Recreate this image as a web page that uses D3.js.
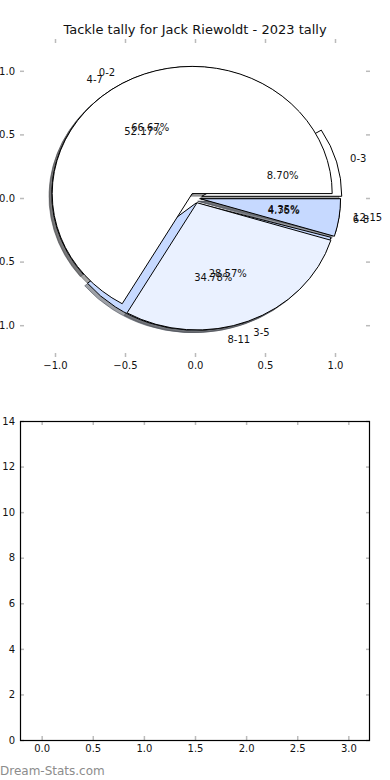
<!DOCTYPE html>
<html><head><meta charset="utf-8">
<script src="https://cdn.jsdelivr.net/npm/d3@7"></script>
<style>body{margin:0;background:#fff}svg{display:block;font-family:"DejaVu Sans",sans-serif}</style>
</head><body><svg id="c" width="390" height="780"></svg>
<script>
const title = "Tackle tally for Jack Riewoldt - 2023 tally";
const pieALabels = ["0-3", "4-7", "8-11", "12-15"];
const pieAValues = [2, 12, 8, 1];
const pieBLabels = ["0-2", "3-5", "6-8"];
const pieBValues = [14, 6, 1];
const pieTicks = [-1.0, -0.5, 0.0, 0.5, 1.0];
const barXTicks = [0, 0.5, 1, 1.5, 2, 2.5, 3];
const barYTicks = [0, 2, 4, 6, 8, 10, 12, 14];
const watermark = "Dream-Stats.com";

const wedgeColors = ["#ffffff", "#eaf1ff", "#c6d9ff"];
const pieAExplode = [0.05, 0.04, 0.04, 0.04];
const pieBExplode = [0.04, 0.04, 0.04];

const svg = d3.select("#c");
const L = 20, R = 370;
const TICK = "#bbbbbb";

// ---------- top axes (pie) ----------
const pT = 39, pB = 357;
const px = d3.scaleLinear().domain([-1.25, 1.25]).range([L, R]);
const py = d3.scaleLinear().domain([-1.25, 1.25]).range([pB, pT]);
const kx = px(1) - px(0), ky = py(0) - py(1);

svg.append("text").attr("x", (L + R) / 2).attr("y", 34).attr("text-anchor", "middle")
  .attr("font-size", 13).attr("fill", "#111").text(title);

function styleAxis(g) {
  g.select(".domain").remove();
  g.selectAll(".tick line").attr("stroke", TICK).attr("stroke-width", 1.5);
  g.selectAll(".tick text").attr("font-size", 10).attr("fill", "#111").attr("font-family", "DejaVu Sans");
}
const f1 = d3.format(".1f");
svg.append("g").attr("transform", `translate(${L},0)`).call(d3.axisLeft(py).tickValues(pieTicks).tickSize(-4).tickPadding(5).tickFormat(f1)).call(styleAxis);
svg.append("g").attr("transform", `translate(${R},0)`).call(d3.axisRight(py).tickValues(pieTicks).tickSize(-4).tickFormat("")).call(styleAxis);
svg.append("g").attr("transform", `translate(0,${pB})`).call(d3.axisBottom(px).tickValues(pieTicks).tickSize(-4).tickPadding(5).tickFormat(f1)).call(styleAxis);
svg.append("g").attr("transform", `translate(0,${pT})`).call(d3.axisTop(px).tickValues(pieTicks).tickSize(-4).tickFormat("")).call(styleAxis);

const pieGen = d3.pie().sort(null).startAngle(Math.PI / 2).endAngle(Math.PI / 2 - 2 * Math.PI);
const arcGen = d3.arc().innerRadius(0).outerRadius(1);

function build(labels, values, explode) {
  const total = d3.sum(values);
  return pieGen(values).map((d, i) => {
    const phi = Math.PI / 2 - (d.startAngle + d.endAngle) / 2;
    const e = explode[i];
    return {d, label: labels[i], pct: (values[i] / total * 100).toFixed(2) + "%",
      color: wedgeColors[i % wedgeColors.length], phi,
      ox: e * Math.cos(phi), oy: e * Math.sin(phi)};
  });
}
const pies = [build(pieALabels, pieAValues, pieAExplode), build(pieBLabels, pieBValues, pieBExplode)];

const shadowG = svg.append("g");
const wedgeG = svg.append("g");
const textG = svg.append("g");
function shade(c) { const r = d3.rgb(c); return d3.rgb(r.r * 0.3, r.g * 0.3, r.b * 0.3).toString(); }

pies.forEach(ws => {
  ws.forEach(w => {
    shadowG.append("path").attr("d", arcGen(w.d))
      .attr("transform", `translate(${px(w.ox - 0.02)},${py(w.oy - 0.02)}) scale(${kx},${ky})`)
      .attr("fill", shade(w.color)).attr("fill-opacity", 0.5)
      .attr("stroke", shade(w.color)).attr("stroke-opacity", 0.5)
      .attr("stroke-width", 1).attr("vector-effect", "non-scaling-stroke");
  });
});
pies.forEach(ws => {
  ws.forEach(w => {
    wedgeG.append("path").attr("d", arcGen(w.d))
      .attr("transform", `translate(${px(w.ox)},${py(w.oy)}) scale(${kx},${ky})`)
      .attr("fill", w.color).attr("stroke", "#000")
      .attr("stroke-width", 1).attr("stroke-linejoin", "miter").attr("vector-effect", "non-scaling-stroke");
  });
});
pies.forEach(ws => {
  ws.forEach(w => {
    const lx = w.ox + 1.1 * Math.cos(w.phi), ly = w.oy + 1.1 * Math.sin(w.phi);
    textG.append("text").attr("x", px(lx)).attr("y", py(ly))
      .attr("text-anchor", lx > 0 ? "start" : "end").attr("dominant-baseline", "central")
      .attr("font-size", 10).attr("fill", "#111").text(w.label);
    const tx = w.ox + 0.6 * Math.cos(w.phi), ty = w.oy + 0.6 * Math.sin(w.phi);
    textG.append("text").attr("x", px(tx)).attr("y", py(ty))
      .attr("text-anchor", "middle").attr("dominant-baseline", "central")
      .attr("font-size", 10).attr("fill", "#111").text(w.pct);
  });
});

// ---------- bottom axes (empty bar chart) ----------
const bT = 421, bB = 740;
const bx = d3.scaleLinear().domain([-0.212, 3.212]).range([L, R]);
const by = d3.scaleLinear().domain([0, 14]).range([bB, bT]);
const fi = d3.format("d");
svg.append("g").attr("transform", `translate(${L},0)`).call(d3.axisLeft(by).tickValues(barYTicks).tickSize(-4).tickPadding(5).tickFormat(fi)).call(styleAxis);
svg.append("g").attr("transform", `translate(${R},0)`).call(d3.axisRight(by).tickValues(barYTicks).tickSize(-4).tickFormat("")).call(styleAxis);
svg.append("g").attr("transform", `translate(0,${bB})`).call(d3.axisBottom(bx).tickValues(barXTicks).tickSize(-4).tickPadding(5).tickFormat(f1)).call(styleAxis);
svg.append("g").attr("transform", `translate(0,${bT})`).call(d3.axisTop(bx).tickValues(barXTicks).tickSize(-4).tickFormat("")).call(styleAxis);
svg.append("rect").attr("x", L + 0.5).attr("y", bT + 0.5).attr("width", R - L - 1).attr("height", bB - bT)
  .attr("fill", "none").attr("stroke", "#000").attr("stroke-width", 1.2);

svg.append("text").attr("x", 0).attr("y", 775).attr("font-size", 12).attr("fill", "#8c8c8c")
  .attr("font-family", "DejaVu Sans").text(watermark);
</script></body></html>
